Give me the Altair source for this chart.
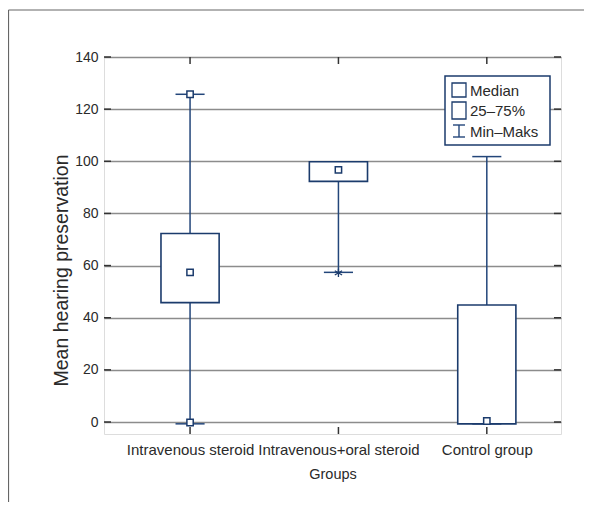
import altair as alt
import pandas as pd

# ---- data ----
groups = ["Intravenous steroid", "Intravenous+oral steroid", "Control group"]
group_pos = [1, 2, 3]
q1_vals = [45.8, 92.3, -0.7]
q3_vals = [72.3, 99.8, 44.9]
median_vals = [57.4, 96.7, 0.4]
min_vals = [-0.7, 57.4, -0.7]
max_vals = [125.7, 99.8, 101.8]

extreme_pos = [1, 1]
extreme_vals = [125.7, -0.2]

outlier_pos = [2]
outlier_vals = [57.2]

y_ticks = [0, 20, 40, 60, 80, 100, 120, 140]
legend_labels = ["Median", "25\u201375%", "Min\u2013Maks"]

FONT = "Liberation Sans"
NAVY = "#1b3b6c"
WHISK = "#23467a"
TXT = "#2a2a2a"

box_df = pd.DataFrame({
    "group": groups, "pos": group_pos, "q1": q1_vals, "q3": q3_vals,
    "median": median_vals, "min": min_vals, "max": max_vals,
})
ext_df = pd.DataFrame({"pos": extreme_pos, "v": extreme_vals})
out_df = pd.DataFrame({"pos": outlier_pos, "v": outlier_vals})
ytick_df = pd.DataFrame({"v": y_ticks})
xtick_df = pd.DataFrame({"pos": group_pos})
one_df = pd.DataFrame({"k": [0]})

xscale = alt.Scale(domain=[0.42, 3.5], nice=False, zero=False)
yscale = alt.Scale(domain=[-4.6, 140], nice=False, zero=False)

label_expr = ("datum.value == 1 ? '%s' : datum.value == 2 ? '%s' : datum.value == 3 ? '%s' : ''"
              % tuple(groups))
xaxis = alt.Axis(values=group_pos, labelExpr=label_expr, ticks=False, domain=False, grid=False,
                 title="Groups", labelFontSize=15, titleFontSize=14.5, labelPadding=8,
                 titlePadding=10, labelFont=FONT, titleFont=FONT, labelColor=TXT,
                 titleColor=TXT, titleFontWeight="normal", labelFlush=False,
                 labelOverlap=False)
yaxis = alt.Axis(values=y_ticks, ticks=False, domain=False, grid=True, gridColor="#8c8c8c",
                 gridWidth=1.3, title="Mean hearing preservation", labelFontSize=14,
                 titleFontSize=19.5, labelPadding=6, titleX=-33, titleY=213,
                 titleBaseline="bottom", titleAngle=270, labelFont=FONT,
                 titleFont=FONT, labelColor=TXT, titleColor=TXT,
                 titleFontWeight="normal", labelFlush=False, labelOverlap=False)


def X(field):
    return alt.X(field, type="quantitative", scale=xscale, axis=xaxis)


def Y(field):
    return alt.Y(field, type="quantitative", scale=yscale, axis=yaxis)


base = alt.Chart(box_df)

whisk_lo = base.mark_rule(color=WHISK, strokeWidth=1.5).encode(
    x=X("pos"), y=Y("min"), y2="q1")
whisk_hi = base.mark_rule(color=WHISK, strokeWidth=1.5).encode(
    x=X("pos"), y=Y("q3"), y2="max")

cap_lo = base.transform_calculate(a="datum.pos - 0.098", b="datum.pos + 0.098").mark_rule(
    color=WHISK, strokeWidth=1.5).encode(x=X("a:Q"), x2="b:Q", y=Y("min"))
cap_hi = base.transform_calculate(a="datum.pos - 0.098", b="datum.pos + 0.098").mark_rule(
    color=WHISK, strokeWidth=1.5).encode(x=X("a:Q"), x2="b:Q", y=Y("max"))

boxes = base.transform_calculate(a="datum.pos - 0.196", b="datum.pos + 0.196").mark_rect(
    fill="white", stroke=NAVY, strokeWidth=1.6).encode(
    x=X("a:Q"), x2="b:Q", y=Y("q1"), y2="q3")

medians = base.mark_point(shape="square", size=40, filled=True, fill="white", stroke=NAVY,
                          strokeWidth=1.5, opacity=1).encode(x=X("pos"), y=Y("median"))

extremes = alt.Chart(ext_df).mark_point(shape="square", size=40, filled=True, fill="white",
                                        stroke=NAVY, strokeWidth=1.5, opacity=1).encode(
    x=X("pos"), y=Y("v"))

outliers = alt.Chart(out_df).mark_point(
    shape="M0,-1L0,1M-0.87,-0.5L0.87,0.5M-0.87,0.5L0.87,-0.5", size=70, filled=False,
    stroke=NAVY, strokeWidth=1.3, opacity=1).encode(x=X("pos"), y=Y("v"))

# inward ticks
TICK = "#333333"
ytick_l = alt.Chart(ytick_df).mark_rule(color=TICK, strokeWidth=1.5).encode(
    y=Y("v"), x=alt.value(0), x2=alt.value(7))
ytick_r = alt.Chart(ytick_df).mark_rule(color=TICK, strokeWidth=1.5).encode(
    y=Y("v"), x=alt.value(450), x2=alt.value(457))
xtick_t = alt.Chart(xtick_df).mark_rule(color=TICK, strokeWidth=1.5).encode(
    x=X("pos"), y=alt.value(0), y2=alt.value(7))
xtick_b = alt.Chart(xtick_df).mark_rule(color=TICK, strokeWidth=1.5).encode(
    x=X("pos"), y=alt.value(370), y2=alt.value(377))

# outer frame
deco = alt.Chart(one_df)
frame_l = deco.mark_rule(color="#666666", strokeWidth=1.2).encode(
    x=alt.value(-95.5), y=alt.value(-47), y2=alt.value(460))
frame_t = deco.mark_rule(color="#666666", strokeWidth=1.2).encode(
    x=alt.value(-95.5), x2=alt.value(500), y=alt.value(-47))

# legend
leg_box = deco.mark_rect(fill="white", stroke=NAVY, strokeWidth=1.5).encode(
    x=alt.value(341), x2=alt.value(446), y=alt.value(19), y2=alt.value(88))
leg_sq1 = deco.mark_rect(fill="white", stroke=NAVY, strokeWidth=1.3).encode(
    x=alt.value(348), x2=alt.value(362), y=alt.value(26), y2=alt.value(40))
leg_sq2 = deco.mark_rect(fill="white", stroke=NAVY, strokeWidth=1.3).encode(
    x=alt.value(348), x2=alt.value(362), y=alt.value(45), y2=alt.value(62))
leg_i_v = deco.mark_rule(color=WHISK, strokeWidth=1.4).encode(
    x=alt.value(355), y=alt.value(68), y2=alt.value(80))
leg_i_t = deco.mark_rule(color=WHISK, strokeWidth=1.4).encode(
    x=alt.value(349), x2=alt.value(361), y=alt.value(68))
leg_i_b = deco.mark_rule(color=WHISK, strokeWidth=1.4).encode(
    x=alt.value(349), x2=alt.value(361), y=alt.value(80))

leg_texts = []
for lbl, ypix in zip(legend_labels, [33.5, 54, 74.5]):
    leg_texts.append(deco.mark_text(
        text=lbl, align="left", baseline="middle", font=FONT, fontSize=15,
        color=TXT).encode(x=alt.value(366), y=alt.value(ypix)))

chart = alt.layer(
    whisk_lo, whisk_hi, cap_lo, cap_hi, boxes, medians, extremes, outliers,
    ytick_l, ytick_r, xtick_t, xtick_b, frame_l, frame_t,
    leg_box, leg_sq1, leg_sq2, leg_i_v, leg_i_t, leg_i_b, *leg_texts,
).properties(
    width=457, height=377,
    autosize=alt.AutoSizeParams(type="none"),
    padding={"left": 96, "top": 49, "right": 23, "bottom": 68},
).configure_view(
    stroke="#333333", strokeWidth=1.5,
).configure(background="white")

chart.save("out.html", embed_options={"renderer": "svg", "actions": False})
